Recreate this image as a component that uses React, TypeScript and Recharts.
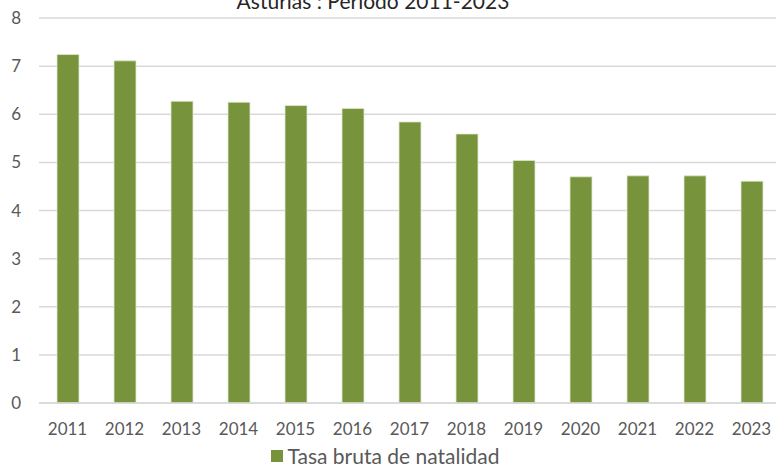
import React from "react";
import { BarChart, Bar, XAxis, YAxis, CartesianGrid, Legend } from "recharts";

const years = ["2011", "2012", "2013", "2014", "2015", "2016", "2017", "2018", "2019", "2020", "2021", "2022", "2023"];
const tasaBruta = [7.24, 7.11, 6.27, 6.25, 6.18, 6.12, 5.84, 5.59, 5.04, 4.7, 4.72, 4.72, 4.61];
const yTicks = [0, 1, 2, 3, 4, 5, 6, 7, 8];
const seriesName = "Tasa bruta de natalidad";
const title = "Asturias : Período 2011-2023";

const data = years.map((y, i) => ({ year: y, value: tasaBruta[i] }));

const FONT = "Lato, 'Open Sans', sans-serif";
const GREEN = "#77933C";

const LegendContent = () => (
  <div style={{ display: "flex", justifyContent: "center", alignItems: "center", height: 24, lineHeight: "24px", fontFamily: FONT, fontSize: 21, color: "#595959", paddingRight: 10 }}>
    <span style={{ display: "inline-block", width: 12, height: 12, background: GREEN, marginRight: 5 }} />
    <span>{seriesName}</span>
  </div>
);

export default function App() {
  return (
    <div style={{ position: "fixed", top: 0, left: 0, width: 776, height: 468, overflow: "hidden", background: "#fff" }}>
      <BarChart width={790} height={468} data={data} margin={{ top: 18, right: 10, left: 0, bottom: 0 }}>
        <CartesianGrid vertical={false} stroke="#d9d9d9" strokeWidth={1.5} />
        <XAxis
          dataKey="year"
          axisLine={{ stroke: "#d9d9d9", strokeWidth: 1.5 }}
          tickLine={false}
          height={41}
          tickMargin={14}
          tick={{ fontFamily: FONT, fontSize: 17, fill: "#595959" }}
          interval={0}
        />
        <YAxis
          width={39}
          domain={[0, 8]}
          ticks={yTicks}
          axisLine={false}
          tickLine={false}
          tickMargin={12}
          tick={{ fontFamily: FONT, fontSize: 17, fill: "#595959" }}
        />
        <Legend verticalAlign="bottom" height={24} content={<LegendContent />} />
        <Bar dataKey="value" name={seriesName} fill={GREEN} stroke="#dfe8cf" strokeWidth={0.8} barSize={22} isAnimationActive={false} />
      </BarChart>
      <div style={{ position: "absolute", top: -11, left: 0, width: 746, textAlign: "center", fontFamily: FONT, fontSize: 21, lineHeight: "24px", color: "#262626", zIndex: 5, pointerEvents: "none" }}>
        {title}
      </div>
    </div>
  );
}
